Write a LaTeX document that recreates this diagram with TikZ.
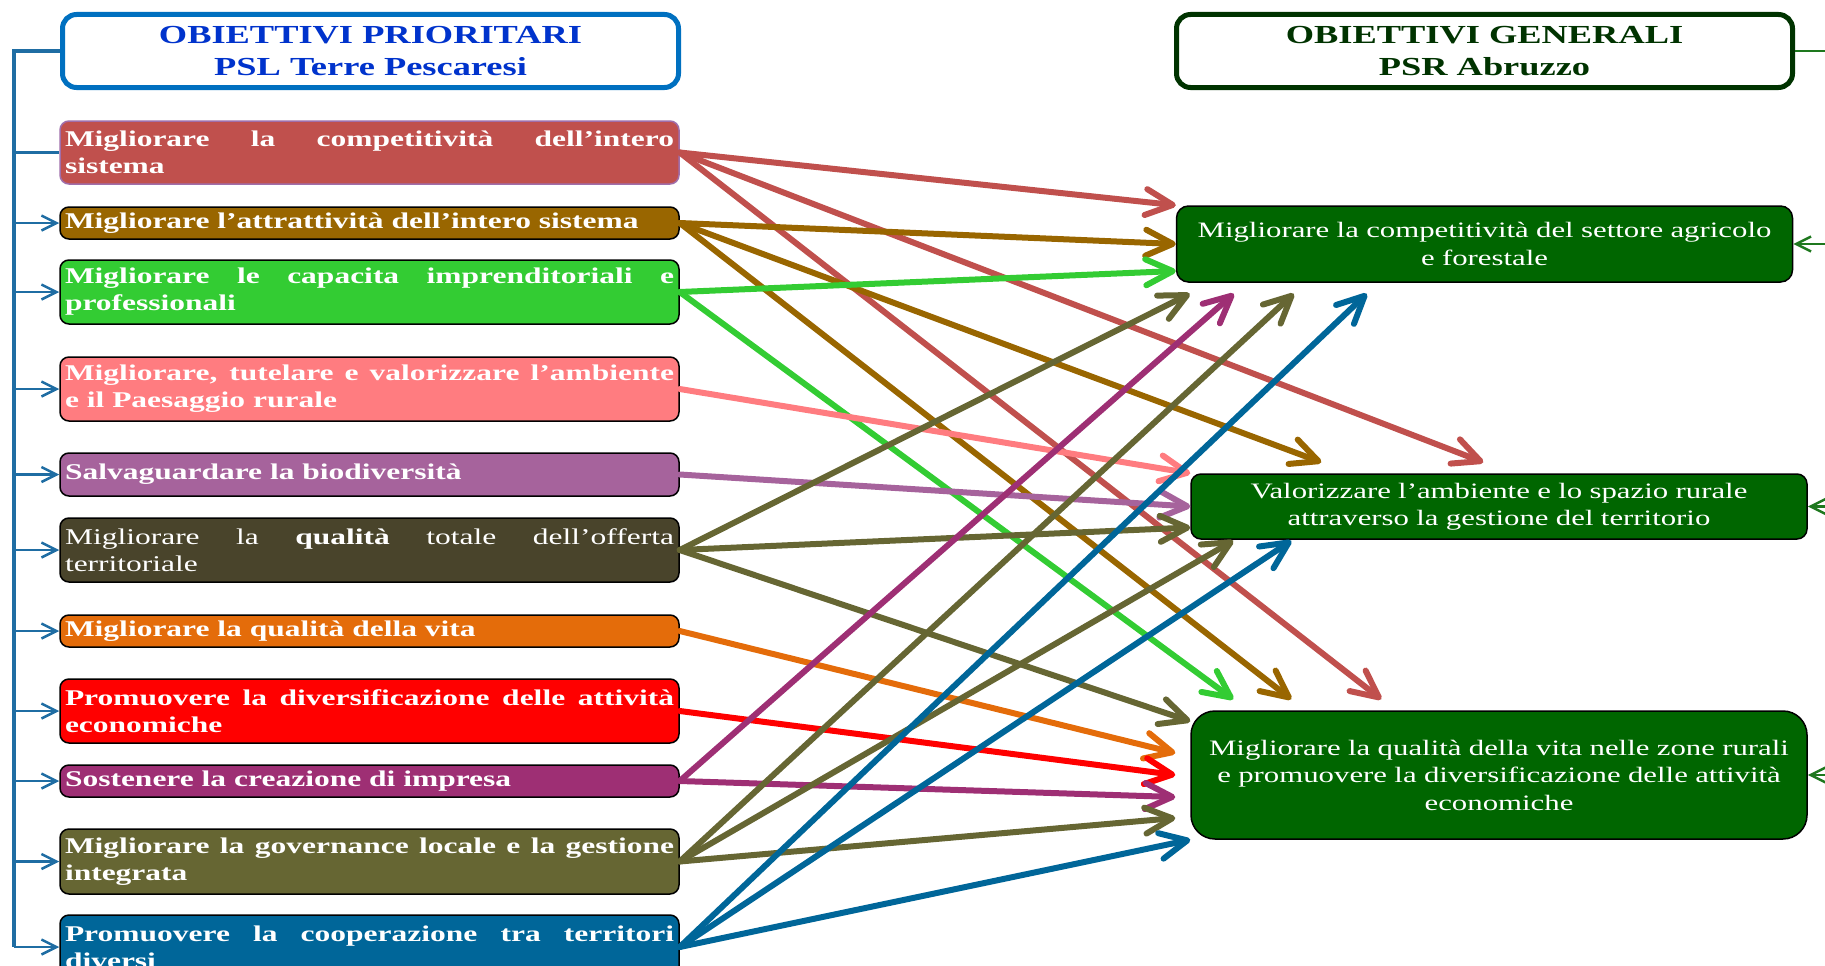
\documentclass[tikz,border=0pt]{standalone}
\usepackage{fontspec}
\setmainfont[FakeStretch=1.4]{Liberation Serif}
\usetikzlibrary{arrows.meta}
\definecolor{cRedBrown}{HTML}{C0504D}
\definecolor{cBrown}{HTML}{996600}
\definecolor{cGreen}{HTML}{33CC33}
\definecolor{cPink}{HTML}{FF7C80}
\definecolor{cPurple}{RGB}{166,99,156}
\definecolor{cDark}{RGB}{73,68,43}
\definecolor{cOlive}{HTML}{666633}
\definecolor{cOrange}{HTML}{E46C0A}
\definecolor{cRed}{HTML}{FF0000}
\definecolor{cMagenta}{HTML}{9E2F74}
\definecolor{cBlue}{HTML}{006699}
\definecolor{cGoal}{HTML}{006600}
\definecolor{cHeadBlue}{HTML}{0070C0}
\definecolor{cHeadText}{HTML}{0033CC}
\definecolor{cHeadGreen}{HTML}{003300}
\definecolor{cLink}{RGB}{31,109,163}
\definecolor{cRight}{RGB}{30,120,30}
\definecolor{cEdge}{RGB}{160,110,170}

\begin{document}
\begin{tikzpicture}[x=1pt,y=-1pt,
  prio/.style={draw=black,line width=1.5pt,rounded corners=9pt,text=white,text width=609pt,
    inner xsep=5pt,inner ysep=0pt,align=justify,font=\fontsize{22.5}{27}\selectfont\bfseries},
  goal/.style={draw=black,line width=1.5pt,rounded corners=12pt,fill=cGoal,text=white,text width=596pt,
    inner xsep=10pt,inner ysep=0pt,align=center,font=\fontsize{22}{27.5}\selectfont},
  head/.style={fill=white,line width=5pt,rounded corners=14pt,inner sep=0pt,align=center,
    minimum width=616pt,minimum height=73pt,font=\fontsize{26}{32}\selectfont\bfseries},
  arr/.style={line width=6pt,line cap=round,-{Straight Barb[length=27pt,width=26pt,line width=6pt,round]}},
  feed/.style={line width=2.5pt,-{Straight Barb[length=15pt,width=15pt,line width=2.5pt]}}]
\useasboundingbox (0,0) rectangle (1825,966);

\node[head,draw=cHeadBlue,text=cHeadText] (h1) at (370.5,51) {OBIETTIVI PRIORITARI\\PSL Terre Pescaresi};
\node[head,draw=cHeadGreen,text=cHeadGreen] (h2) at (1484.5,51) {OBIETTIVI GENERALI\\PSR Abruzzo};

\node[prio,fill=cRedBrown,draw=cEdge,minimum height=63pt] (p1) at (369.5,152.5) {Migliorare la competitività dell’intero\linebreak sistema};
\node[prio,fill=cBrown,minimum height=32pt] (p2) at (369.5,223) {Migliorare l’attrattività dell’intero sistema};
\node[prio,fill=cGreen,minimum height=64pt] (p3) at (369.5,292) {Migliorare le capacita imprenditoriali e\linebreak professionali};
\node[prio,fill=cPink,minimum height=64pt] (p4) at (369.5,389) {Migliorare, tutelare e valorizzare l’ambiente\linebreak e il Paesaggio rurale};
\node[prio,fill=cPurple,minimum height=43pt] (p5) at (369.5,474.5) {Salvaguardare la biodiversità};
\node[prio,fill=cDark,minimum height=64pt,font=\fontsize{22.5}{27}\selectfont] (p6) at (369.5,550) {Migliorare la \textbf{qualità} totale dell’offerta\linebreak territoriale};
\node[prio,fill=cOrange,minimum height=32pt] (p7) at (369.5,631) {Migliorare la qualità della vita};
\node[prio,fill=cRed,minimum height=64pt] (p8) at (369.5,711) {Promuovere la diversificazione delle attività\linebreak economiche};
\node[prio,fill=cMagenta,minimum height=32pt] (p9) at (369.5,781) {Sostenere la creazione di impresa};
\node[prio,fill=cOlive,minimum height=65pt] (p10) at (369.5,861.5) {Migliorare la governance locale e la gestione\linebreak integrata};
\node[prio,fill=cBlue,minimum height=64pt] (p11) at (369.5,947) {Promuovere la cooperazione tra territori\linebreak diversi};

\node[goal,minimum height=76pt] (ga) at (1484.5,244) {Migliorare la competitività del settore agricolo\\e forestale};
\node[goal,minimum height=65pt,rounded corners=10pt] (gb) at (1499,506.5) {Valorizzare l’ambiente e lo spazio rurale\\attraverso la gestione del territorio};
\node[goal,minimum height=128pt,rounded corners=24pt] (gc) at (1499,775) {Migliorare la qualità della vita nelle zone rurali\\e promuovere la diversificazione delle attività\\economiche};

\coordinate (lt) at (14,51);
\coordinate (rt) at (1825,51);
\draw[line width=4pt,cLink] (h1.west) -- (lt) -- (lt |- p11.west);
\draw[line width=2.5pt,cLink] (lt |- p1.west) -- (p1.west);
\draw[feed,cLink] (lt |- p2.west) -- (p2.west);
\draw[feed,cLink] (lt |- p3.west) -- (p3.west);
\draw[feed,cLink] (lt |- p4.west) -- (p4.west);
\draw[feed,cLink] (lt |- p5.west) -- (p5.west);
\draw[feed,cLink] (lt |- p6.west) -- (p6.west);
\draw[feed,cLink] (lt |- p7.west) -- (p7.west);
\draw[feed,cLink] (lt |- p8.west) -- (p8.west);
\draw[feed,cLink] (lt |- p9.west) -- (p9.west);
\draw[feed,cLink] (lt |- p10.west) -- (p10.west);
\draw[feed,cLink] (lt |- p11.west) -- (p11.west);

\draw[line width=2.5pt,cRight] (h2.east) -- (rt);
\draw[feed,cRight] (rt |- ga.east) -- (ga.east);
\draw[feed,cRight] (rt |- gb.east) -- (gb.east);
\draw[feed,cRight] (rt |- gc.east) -- (gc.east);

\draw[arr,cRedBrown] (p1.east) -- (ga.north west);
\draw[arr,cRedBrown] (p1.east) -- ([xshift=293pt,yshift=11pt]gb.north west);
\draw[arr,cRedBrown] (p1.east) -- ([xshift=191pt,yshift=11pt]gc.north west);
\draw[arr,cBrown] (p2.east) -- (ga.west);
\draw[arr,cBrown] (p2.east) -- ([xshift=131pt,yshift=11pt]gb.north west);
\draw[arr,cBrown] (p2.east) -- ([xshift=101pt,yshift=11pt]gc.north west);
\draw[arr,cGreen] (p3.east) -- ([yshift=-27pt]ga.west);
\draw[arr,cGreen] (p3.east) -- ([xshift=43pt,yshift=11pt]gc.north west);
\draw[arr,cPink] (p4.east) -- (gb.north west);
\draw[arr,cPurple] (p5.east) -- (gb.west);
\draw[arr,cOlive] (p6.east) -- ([xshift=14pt,yshift=-11pt]ga.south west);
\draw[arr,cOlive] (p6.east) -- ([yshift=-21pt]gb.west);
\draw[arr,cOlive] (p6.east) -- ([yshift=-11pt]gc.north west);
\draw[arr,cOrange] (p7.east) -- ([xshift=-15pt,yshift=22pt]gc.west);
\draw[arr,cRed] (p8.east) -- ([xshift=-15pt]gc.west);
\draw[arr,cMagenta] (p9.east) -- ([xshift=58pt,yshift=-11pt]ga.south west);
\draw[arr,cMagenta] (p9.east) -- ([xshift=-15pt,yshift=-22pt]gc.west);
\draw[arr,cOlive] (p10.east) -- ([xshift=118pt,yshift=-11pt]ga.south west);
\draw[arr,cOlive] (p10.east) -- ([xshift=43pt,yshift=-1pt]gb.south west);
\draw[arr,cOlive] (p10.east) -- ([xshift=-15pt,yshift=-43pt]gc.west);
\draw[arr,cBlue] (p11.east) -- ([xshift=191pt,yshift=-11pt]ga.south west);
\draw[arr,cBlue] (p11.east) -- ([xshift=101pt,yshift=-1pt]gb.south west);
\draw[arr,cBlue] (p11.east) -- (gc.south west);
\end{tikzpicture}
\end{document}
